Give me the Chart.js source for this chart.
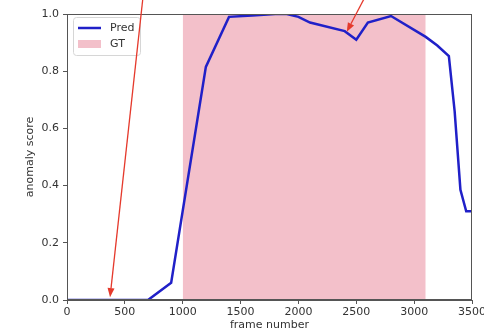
<!DOCTYPE html>
<html>
<head>
<meta charset="utf-8">
<script src="https://cdn.jsdelivr.net/npm/chart.js@4/dist/chart.umd.min.js"></script>
<style>
  html, body { margin: 0; padding: 0; background: #fff; }
</style>
</head>
<body>
<canvas id="c" width="484" height="332"></canvas>
<script>
// Predicted anomaly score per frame
const frames = [0, 700, 900, 1200, 1400, 1600, 1800, 1900, 2000, 2100, 2400, 2500, 2600, 2800, 3100, 3200, 3300, 3350, 3400, 3450, 3500];
const scores = [0, 0, 0.06, 0.815, 0.99, 0.995, 1.0, 1.0, 0.99, 0.97, 0.94, 0.91, 0.97, 0.993, 0.92, 0.89, 0.853, 0.66, 0.385, 0.31, 0.31];

// Ground-truth anomalous interval (frames)
const gtRange = [1000, 3100];

// Axis ticks
const xTicks = [0, 500, 1000, 1500, 2000, 2500, 3000, 3500];
const yTicks = [0.0, 0.2, 0.4, 0.6, 0.8, 1.0];

// Red call-out arrows: [fromX, fromY] -> [toX, toY] in data units
const arrowFrom = [[657, 1.06], [2576, 1.06]];
const arrowTo = [[372, 0.01], [2418, 0.938]];

const BLUE = '#2020c8';
const PINK = '#f3c0ca';
const RED = '#e5392c';
const INK = '#333';
const FONT = { family: 'DejaVu Sans', size: 11 };

const fixBox = (w, h) => (s) => {
  if (w !== null) s.width = w;
  if (h !== null) s.height = h;
  s.paddingLeft = 0; s.paddingRight = 0; s.paddingTop = 0; s.paddingBottom = 0;
};

const overlay = {
  id: 'overlay',
  afterDraw(chart) {
    const { ctx, chartArea: a, scales: { x, y } } = chart;
    ctx.save();
    // axes frame
    ctx.strokeStyle = '#555';
    ctx.lineWidth = 1;
    ctx.strokeRect(a.left + 0.5, a.top + 0.5, a.right - a.left - 1, a.bottom - a.top - 1);

    // legend box
    const lx = a.left + 6, ly = a.top + 3, lw = 67, lh = 38, r = 3;
    ctx.beginPath();
    ctx.roundRect(lx + 0.5, ly + 0.5, lw, lh, r);
    ctx.fillStyle = 'rgba(255,255,255,0.85)';
    ctx.fill();
    ctx.strokeStyle = '#d6d6d6';
    ctx.stroke();
    ctx.beginPath();
    ctx.moveTo(lx + 5, ly + 11);
    ctx.lineTo(lx + 28, ly + 11);
    ctx.strokeStyle = BLUE;
    ctx.lineWidth = 2.5;
    ctx.stroke();
    ctx.fillStyle = PINK;
    ctx.fillRect(lx + 5, ly + 23, 23, 8);
    ctx.fillStyle = INK;
    ctx.font = '11px "DejaVu Sans"';
    ctx.textBaseline = 'middle';
    ctx.textAlign = 'left';
    ctx.fillText('Pred', lx + 37, ly + 11);
    ctx.fillText('GT', lx + 37, ly + 27);

    // call-out arrows
    ctx.strokeStyle = RED;
    ctx.fillStyle = RED;
    ctx.lineWidth = 1.3;
    arrowFrom.forEach((f, i) => {
      const x0 = x.getPixelForValue(f[0]), y0 = y.getPixelForValue(f[1]);
      const x1 = x.getPixelForValue(arrowTo[i][0]), y1 = y.getPixelForValue(arrowTo[i][1]);
      const ang = Math.atan2(y1 - y0, x1 - x0);
      const hl = 9, hw = 3.5;
      const bx = x1 - hl * Math.cos(ang), by = y1 - hl * Math.sin(ang);
      ctx.beginPath();
      ctx.moveTo(x0, y0);
      ctx.lineTo(bx, by);
      ctx.stroke();
      ctx.beginPath();
      ctx.moveTo(x1, y1);
      ctx.lineTo(bx + hw * Math.sin(ang), by - hw * Math.cos(ang));
      ctx.lineTo(bx - hw * Math.sin(ang), by + hw * Math.cos(ang));
      ctx.closePath();
      ctx.fill();
    });
    ctx.restore();
  }
};

new Chart(document.getElementById('c'), {
  type: 'line',
  data: {
    datasets: [
      {
        label: 'Pred',
        data: frames.map((f, i) => ({ x: f, y: scores[i] })),
        borderColor: BLUE,
        borderWidth: 2.5,
        pointRadius: 0,
        tension: 0,
        fill: false,
        order: 0
      },
      {
        label: 'GT',
        data: gtRange.map(f => ({ x: f, y: 1 })),
        borderWidth: 0,
        borderColor: 'rgba(0,0,0,0)',
        backgroundColor: PINK,
        pointRadius: 0,
        fill: 'origin',
        order: 1
      }
    ]
  },
  options: {
    responsive: false,
    devicePixelRatio: 1,
    animation: false,
    events: [],
    layout: { padding: { top: 14, right: 12, left: 0, bottom: 0 } },
    plugins: { legend: { display: false }, tooltip: { enabled: false } },
    scales: {
      x: {
        type: 'linear',
        min: 0,
        max: 3500,
        afterBuildTicks: (s) => { s.ticks = xTicks.map(v => ({ value: v })); },
        afterFit: fixBox(null, 32),
        ticks: { color: INK, font: FONT, padding: 2, maxRotation: 0, autoSkip: false, callback: (v) => String(v) },
        grid: { drawOnChartArea: false, drawTicks: true, tickLength: 4, color: '#555', tickWidth: 1 },
        border: { display: true, color: '#555' },
        title: { display: true, text: 'frame number', color: INK, font: FONT, padding: { top: 0, bottom: 0 } }
      },
      y: {
        min: 0,
        max: 1,
        afterBuildTicks: (s) => { s.ticks = yTicks.map(v => ({ value: v })); },
        afterFit: fixBox(67, null),
        ticks: { color: INK, font: FONT, padding: 4, callback: (v) => Number(v).toFixed(1), autoSkip: false },
        grid: { drawOnChartArea: false, drawTicks: true, tickLength: 4, color: '#555', tickWidth: 1 },
        border: { display: true, color: '#555' },
        title: { display: true, text: 'anomaly score', color: INK, font: FONT, padding: { top: 24, bottom: 0 } }
      }
    }
  },
  plugins: [overlay]
});
</script>
</body>
</html>
